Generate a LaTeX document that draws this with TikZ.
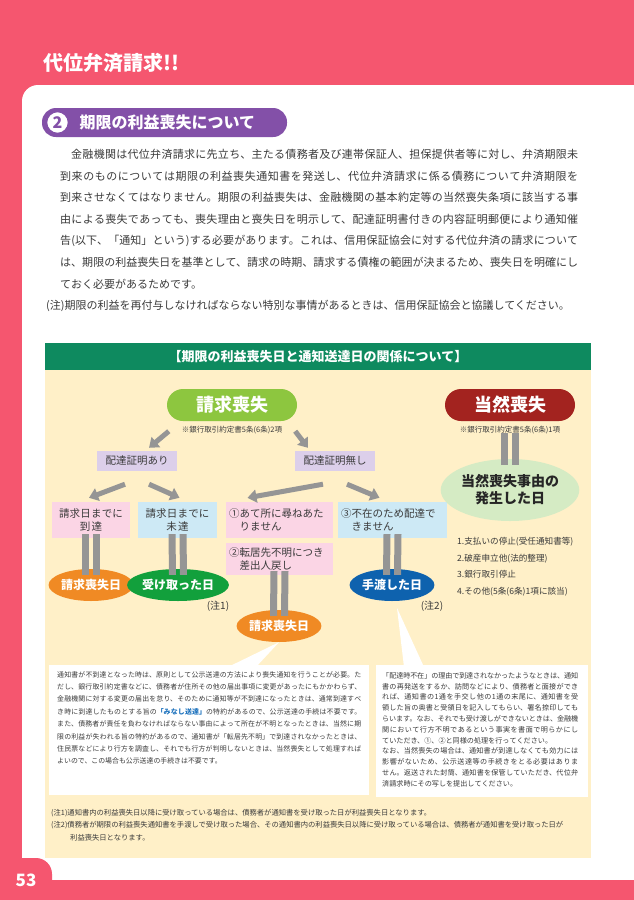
\documentclass[tikz,border=0pt]{standalone}
\usepackage{fontspec}
\setmainfont{Noto Sans CJK JP}
\usetikzlibrary{arrows.meta,shapes.geometric}
\XeTeXlinebreaklocale "ja"
\XeTeXlinebreakskip=0pt plus 1pt minus 0.4pt
\definecolor{pinkbg}{HTML}{F5566F}
\definecolor{purp}{HTML}{8350A8}
\definecolor{gbar}{HTML}{0E8A5F}
\definecolor{cream}{HTML}{FFF0C8}
\definecolor{lgreen}{HTML}{8DC63F}
\definecolor{dred}{HTML}{A3231F}
\definecolor{lav}{HTML}{DCCFEA}
\definecolor{pk}{HTML}{FBD5E5}
\definecolor{bl}{HTML}{CDE9F5}
\definecolor{org}{HTML}{F08A24}
\definecolor{grn}{HTML}{12A03C}
\definecolor{blu}{HTML}{0E62AE}
\definecolor{pale}{HTML}{D5EBC4}
\definecolor{gry}{HTML}{959595}
\definecolor{txt}{HTML}{3A3A3A}
\definecolor{lnk}{HTML}{1E73BE}
\tikzset{
  pill/.style={rounded corners=16pt, minimum width=130pt, minimum height=32pt, text=white, font=\fontsize{18}{18}\selectfont\bfseries},
  lavbox/.style={fill=lav, minimum width=80pt, minimum height=20pt, font=\fontsize{10.5}{11}\selectfont, text=txt},
  casebox/.style={minimum height=36pt, font=\fontsize{10.5}{13}\selectfont, text=txt, align=left, inner sep=3pt},
  oval/.style={ellipse, minimum width=78pt, minimum height=32pt, inner sep=0pt, text=white, font=\fontsize{12}{12}\selectfont\bfseries},
  garrow/.style={gry, line width=5pt, -{Triangle[width=13pt,length=9pt]}},
  eqbar/.style={gry, line width=7pt},
  small/.style={font=\fontsize{7.5}{8}\selectfont, text=txt},
  note/.style={font=\fontsize{10}{10}\selectfont, text=txt}
}
\begin{document}
\begin{tikzpicture}[x=1pt,y=-1pt]
\useasboundingbox (0,0) rectangle (634,900);
\fill[pinkbg] (0,0) rectangle (634,900);
\fill[white,rounded corners=16pt] (22,85) -- (22,880) -- (660,880) -- (660,85) -- cycle;
\fill[pinkbg,rounded corners=16pt] (-20,858) -- (52,858) -- (52,920) -- (-20,920) -- cycle;
\fill[pinkbg] (0,880) rectangle (634,900);
\node[anchor=west,text=white,font=\fontsize{20}{20}\selectfont\bfseries] (title) at (40,63) {代位弁済請求!!};
\node[anchor=center, fill=purp, rounded corners=14pt, minimum width=245pt, minimum height=29pt] (sec) at (164.5,122.5) {};
\node[circle, fill=white, draw=purp, line width=1.5pt, minimum size=22pt, inner sep=0pt, text=purp, font=\fontsize{16}{16}\selectfont\bfseries] (num) at (57.5,122.5) {2};
\node[anchor=west, text=white, font=\fontsize{16}{16}\selectfont\bfseries] (sectitle) at (76,122.5) {期限の利益喪失について};
\node[anchor=north west, text width=518pt, align=justify, inner sep=0pt, text=txt, font=\fontsize{11}{21.6}\selectfont] (body) at (60,149) {\hspace*{11pt}金融機関は代位弁済請求に先立ち、主たる債務者及び連帯保証人、担保提供者等に対し、弁済期限未\linebreak
到来のものについては期限の利益喪失通知書を発送し、代位弁済請求に係る債務について弁済期限を\linebreak
到来させなくてはなりません。期限の利益喪失は、金融機関の基本約定等の当然喪失条項に該当する事\linebreak
由による喪失であっても、喪失理由と喪失日を明示して、配達証明書付きの内容証明郵便により通知催\linebreak
告(以下、「通知」という)する必要があります。これは、信用保証協会に対する代位弁済の請求について\linebreak
は、期限の利益喪失日を基準として、請求の時期、請求する債権の範囲が決まるため、喪失日を明確にし\linebreak
ておく必要があるためです。};
\node[anchor=west, inner sep=0pt, text=txt, font=\fontsize{11}{11}\selectfont] (chu) at (46,306) {(注)期限の利益を再付与しなければならない特別な事情があるときは、信用保証協会と協議してください。};
% green frame
\fill[cream] (45,343) rectangle (591,858);
\node[fill=gbar, minimum width=546pt, minimum height=27pt, text=white, font=\fontsize{13}{13}\selectfont\bfseries] (hdr) at (318,356.5) {【期限の利益喪失日と通知送達日の関係について】};
% top pills
\node[pill, fill=lgreen] (q) at (232,405) {請求喪失};
\node[pill, fill=dred] (t) at (510,405) {当然喪失};
\node[small] (qn) at (232,430) {※銀行取引約定書5条(6条)2項};
\node[small] (tn) at (510,430) {※銀行取引約定書5条(6条)1項};
\node[lavbox] (a) at (137,461) {配達証明あり};
\node[lavbox] (n) at (335,461) {配達証明無し};
\draw[garrow] ([shift={(2,10)}]q.south west) -- ([shift={(12,-3)}]a.north);
\draw[garrow] ([shift={(-2,10)}]q.south east) -- ([shift={(-27,-3)}]n.north);
% case boxes
\node[casebox, fill=pk, minimum width=78pt, text width=72pt, align=center] (c1) at (91,520) {請求日までに\\到達};
\node[casebox, fill=bl, minimum width=79pt, text width=72pt, align=center] (c2) at (177.5,520) {請求日までに\\未達};
\node[casebox, fill=pk, minimum width=107pt, text width=101pt] (c3) at (279.5,520) {①あて所に尋ねあた\\\hspace*{10.5pt}りません};
\node[casebox, fill=bl, minimum width=109pt, text width=103pt] (c4) at (392.5,520) {③不在のため配達で\\\hspace*{10.5pt}きません};
\node[casebox, fill=pk, minimum width=107pt, minimum height=32pt, text width=101pt] (c5) at (279.5,559) {②転居先不明につき\\\hspace*{10.5pt}差出人戻し};
\draw[garrow] ([shift={(-12,13)}]a.south) -- ([shift={(-2,-4)}]c1.north);
\draw[garrow] ([shift={(12,13)}]a.south) -- ([shift={(2,-4)}]c2.north);
\draw[garrow] ([shift={(-12,13)}]n.south) -- ([shift={(-32,-4)}]c3.north -| c3.center) ;
\draw[garrow] ([shift={(12,13)}]n.south) -- ([shift={(-13,-4)}]c4.north);
% ovals
\node[oval, fill=org] (o1) at (91,585) {請求喪失日};
\node[oval, fill=grn, minimum width=82pt] (o2) at (178,585) {受け取った日};
\node[oval, fill=blu, minimum width=84pt] (o4) at (392,585) {手渡した日};
\node[oval, fill=org] (o3) at (279,626) {請求喪失日};
\node[note] (n1) at (218,606) {(注1)};
\node[note] (n2) at (432,606) {(注2)};
\foreach \s/\e in {c1/o1,c2/o2,c4/o4,c5/o3,tn/d}{}
\node[ellipse, fill=pale, minimum width=118pt, minimum height=62pt, inner sep=0pt, align=center, font=\fontsize{14}{17}\selectfont\bfseries, text=black!85] (d) at (510,490) {当然喪失事由の\\発生した日};
\foreach \s/\e in {c1/o1,c2/o2,c4/o4,c5/o3,tn/d}{
  \draw[eqbar] ([xshift=-5.5pt,yshift=4pt]\s.south) -- ([xshift=-5.5pt,yshift=-6pt]\e.north);
  \draw[eqbar] ([xshift=5.5pt,yshift=4pt]\s.south) -- ([xshift=5.5pt,yshift=-6pt]\e.north);
}
\node[anchor=north west, align=left, inner sep=0pt, text=txt, font=\fontsize{8.6}{16.6}\selectfont] (list) at (457,537) {1.支払いの停止(受任通知書等)\\2.破産申立他(法的整理)\\3.銀行取引停止\\4.その他(5条(6条)1項に該当)};
% callouts
\fill[white] (49,665) rectangle (369,795);
\fill[white] (376,665) rectangle (588,797);
\fill[white] (228,667) -- (256,667) -- (o3.south);
\coordinate (tip2) at (397,608);
\fill[white] (404,667) -- (424,667) -- (tip2);
\node[anchor=north west, text width=304pt, align=justify, inner sep=0pt, text=txt, font=\fontsize{6.9}{12.4}\selectfont] (lb) at (57,671) {通知書が不到達となった時は、原則として公示送達の方法により喪失通知を行うことが必要。た\linebreak
だし、銀行取引約定書などに、債務者が住所その他の届出事項に変更があったにもかかわらず、\linebreak
金融機関に対する変更の届出を怠り、そのために通知等が不到達になったときは、通常到達すべ\linebreak
き時に到達したものとする旨の{\color{lnk}\bfseries「みなし送達」}の特約があるので、公示送達の手続は不要です。\linebreak
また、債務者が責任を負わなければならない事由によって所在が不明となったときは、当然に期\linebreak
限の利益が失われる旨の特約があるので、通知書が「転居先不明」で到達されなかったときは、\linebreak
住民票などにより行方を調査し、それでも行方が判明しないときは、当然喪失として処理すれば\linebreak
よいので、この場合も公示送達の手続きは不要です。};
\node[anchor=north west, text width=196pt, align=justify, inner sep=0pt, text=txt, font=\fontsize{7.1}{10.8}\selectfont] (rb) at (382,672) {「配達時不在」の理由で到達されなかったようなときは、通知\linebreak
書の再発送をするか、訪問などにより、債務者と面接ができ\linebreak
れば、通知書の1通を手交し他の1通の末尾に、通知書を受\linebreak
領した旨の奥書と受領日を記入してもらい、署名捺印しても\linebreak
らいます。なお、それでも受け渡しができないときは、金融機\linebreak
関において行方不明であるという事実を書面で明らかにし\linebreak
ていただき、①、②と同様の処理を行ってください。\\
なお、当然喪失の場合は、通知書が到達しなくても効力には\linebreak
影響がないため、公示送達等の手続きをとる必要はありま\linebreak
せん。返送された封筒、通知書を保管していただき、代位弁\linebreak
済請求時にその写しを提出してください。};
\node[anchor=north west, align=left, inner sep=0pt, text=txt, font=\fontsize{7.3}{12.5}\selectfont] (fn) at (51,809) {(注1)通知書内の利益喪失日以降に受け取っている場合は、債務者が通知書を受け取った日が利益喪失日となります。\\
(注2)債務者が期限の利益喪失通知書を手渡しで受け取った場合、その通知書内の利益喪失日以降に受け取っている場合は、債務者が通知書を受け取った日が\\
\hspace*{19pt}利益喪失日となります。};
\node[text=white, font=\fontsize{17}{17}\selectfont\bfseries] (pg) at (26,880) {53};
\end{tikzpicture}
\end{document}
